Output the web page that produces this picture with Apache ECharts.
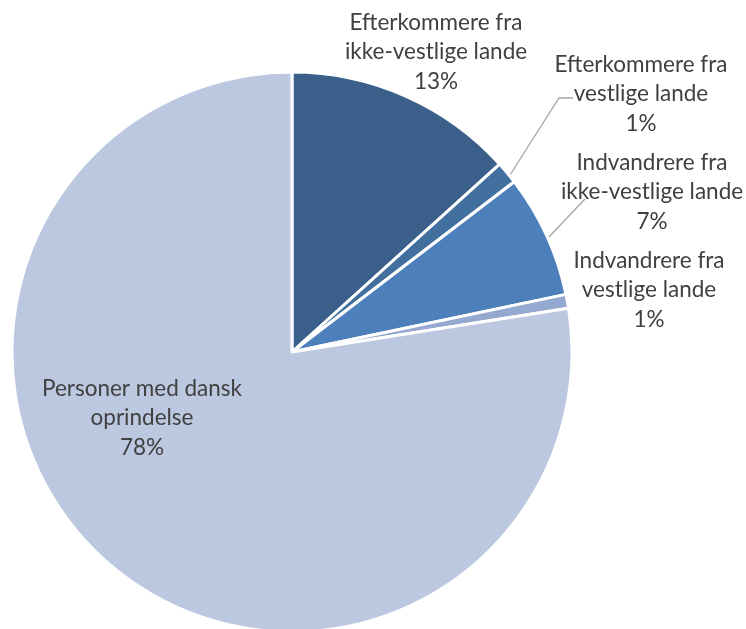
<!DOCTYPE html>
<html>
<head>
<meta charset="utf-8">
<script src="https://cdn.jsdelivr.net/npm/echarts@6/dist/echarts.min.js"></script>
<style>html,body{margin:0;padding:0;background:#fff;}#c{width:746px;height:629px;}</style>
</head>
<body>
<div id="c"></div>
<script>
const categories = [
  'Efterkommere fra\nikke-vestlige lande',
  'Efterkommere fra\nvestlige lande',
  'Indvandrere fra\nikke-vestlige lande',
  'Indvandrere fra\nvestlige lande',
  'Personer med dansk\noprindelse'
];
const values = [13.3, 1.3, 7.1, 0.8, 77.5];
const colors = ['#3a5f8b', '#41709f', '#4d80bb', '#94a8d0', '#bcc8e0'];

const labelPos = [[436, 52], [641, 94], [652, 192], [649, 290], [142, 418]];
const linePts = {
  1: [[510, 175], [559, 98], [573, 98]],
  2: [[548, 238], [566, 219], [585, 199]]
};

const chart = echarts.init(document.getElementById('c'), null, {renderer: 'canvas'});
chart.setOption({
  backgroundColor: '#ffffff',
  animation: false,
  series: [{
    type: 'pie',
    center: [292, 352],
    radius: 280,
    startAngle: 90,
    clockwise: true,
    avoidLabelOverlap: false,
    percentPrecision: 0,
    itemStyle: {borderColor: '#ffffff', borderWidth: 3},
    label: {
      show: true,
      position: 'outside',
      formatter: '{b}\n{d}%',
      fontFamily: 'Lato',
      fontSize: 22.5,
      lineHeight: 29.5,
      color: '#404040',
      align: 'center'
    },
    labelLine: {show: true, length: 10, length2: 10, lineStyle: {color: '#a6a6a6', width: 1.3}},
    labelLayout: function (p) {
      const pos = labelPos[p.dataIndex];
      const o = {x: pos[0], y: pos[1], align: 'center', verticalAlign: 'middle'};
      if (linePts[p.dataIndex]) o.labelLinePoints = linePts[p.dataIndex];
      return o;
    },
    data: categories.map((c, i) => ({
      name: c,
      value: values[i],
      itemStyle: {color: colors[i]},
      labelLine: {show: !!linePts[i]}
    }))
  }]
});
</script>
</body>
</html>
